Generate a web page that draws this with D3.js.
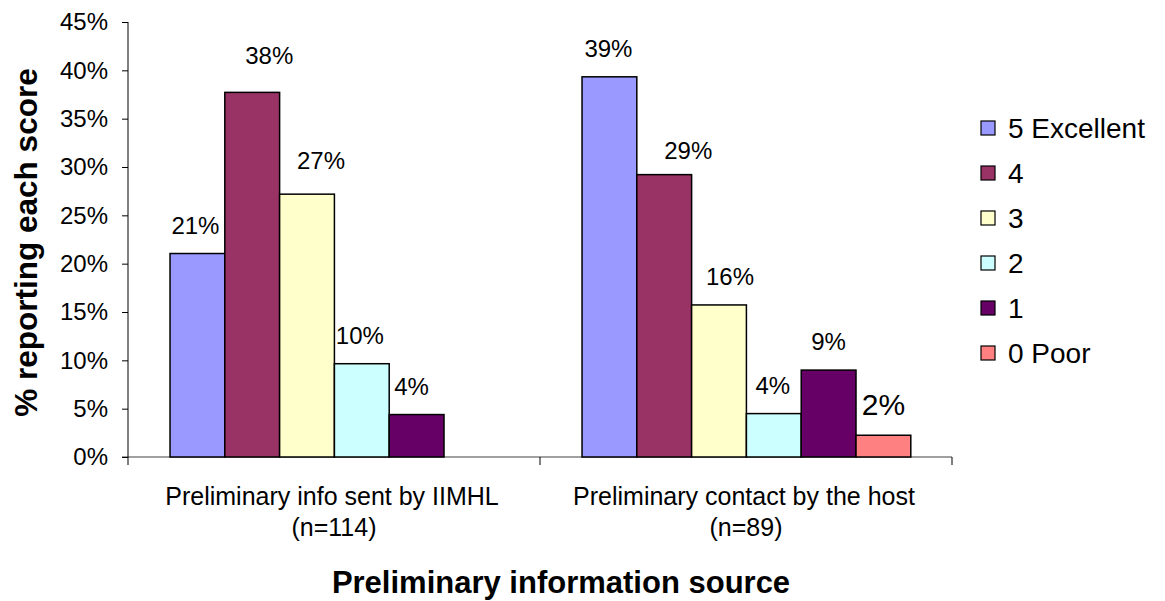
<!DOCTYPE html>
<html>
<head>
<meta charset="utf-8">
<script src="https://cdn.jsdelivr.net/npm/d3@7"></script>
<style>
  html, body { margin: 0; padding: 0; background: #fff; }
  svg { display: block; font-family: Arial, "Liberation Sans", sans-serif; }
</style>
</head>
<body>
<svg id="chart" width="1165" height="601"></svg>
<script>
// ---- data ----
const categories = ["Preliminary info sent by IIMHL", "Preliminary contact by the host"];
const categorySub = ["(n=114)", "(n=89)"];
const seriesNames = ["5 Excellent", "4", "3", "2", "1", "0 Poor"];
const seriesColors = ["#9999FF", "#993366", "#FFFFCC", "#CCFFFF", "#660066", "#FF8080"];
const valuesIIMHL = [0.2105, 0.3772, 0.2719, 0.0965, 0.0439, 0];
const valuesHost  = [0.3933, 0.2921, 0.1573, 0.0449, 0.0899, 0.0225];
const labelsIIMHL = ["21%", "38%", "27%", "10%", "4%", ""];
const labelsHost  = ["39%", "29%", "16%", "4%", "9%", "2%"];
const yTicks = [0, 0.05, 0.10, 0.15, 0.20, 0.25, 0.30, 0.35, 0.40, 0.45];
// manual label nudges (dx, dy) as moved in the original
const nudgeIIMHL = [[-2, 0], [17, -8], [14, -5], [-2, 0], [-5, 0], [0, 0]];
const nudgeHost  = [[-1, 0], [24, 4], [11, 0], [-1, 0], [0, 0], [0, 0]];

const values = [valuesIIMHL, valuesHost];
const labels = [labelsIIMHL, labelsHost];
const nudges = [nudgeIIMHL, nudgeHost];

const svg = d3.select("#chart");
const plot = {left: 128, right: 952, top: 22, bottom: 457};

const y = d3.scaleLinear().domain([0, 0.45]).range([plot.bottom, plot.top]);
const x0 = d3.scaleBand().domain(categories).range([plot.left, plot.right]).padding(0);
const bw = x0.bandwidth();
const x1 = d3.scaleBand().domain(seriesNames).range([bw * 0.102, bw * 0.9]).padding(0);

// x axis (gray baseline)
svg.append("line")
  .attr("x1", plot.left - 6).attr("x2", plot.right)
  .attr("y1", plot.bottom).attr("y2", plot.bottom)
  .attr("stroke", "#808080").attr("stroke-width", 1.5);
// category separator ticks
categories.forEach(c => {
  const xe = x0(c) + bw;
  svg.append("line").attr("x1", xe).attr("x2", xe)
    .attr("y1", plot.bottom).attr("y2", plot.bottom + 8)
    .attr("stroke", "#000").attr("stroke-width", 1);
});

// bars
const groups = svg.selectAll("g.cat").data(categories).join("g")
  .attr("class", "cat")
  .attr("transform", c => `translate(${x0(c)},0)`);

groups.each(function(c, ci) {
  const g = d3.select(this);
  const rows = seriesNames.map((s, si) => ({s, si, v: values[ci][si], lab: labels[ci][si], n: nudges[ci][si]}));
  g.selectAll("rect").data(rows.filter(d => d.v > 0)).join("rect")
    .attr("x", d => x1(d.s))
    .attr("y", d => y(d.v))
    .attr("width", x1.bandwidth())
    .attr("height", d => y(0) - y(d.v))
    .attr("fill", d => seriesColors[d.si])
    .attr("stroke", "#000").attr("stroke-width", 1.5);
  g.selectAll("text.lab").data(rows.filter(d => d.lab)).join("text")
    .attr("class", "lab")
    .attr("x", d => x1(d.s) + x1.bandwidth() / 2 + d.n[0])
    .attr("y", d => y(d.v) - 20 + d.n[1])
    .attr("text-anchor", "middle")
    .attr("font-size", d => d.s === "0 Poor" ? 30 : 24)
    .attr("fill", "#000")
    .text(d => d.lab);
});

// y axis
const yAxis = d3.axisLeft(y).tickValues(yTicks).tickFormat(d3.format(".0%")).tickSize(6).tickPadding(14);
const ya = svg.append("g").attr("transform", `translate(${plot.left},0)`).call(yAxis);
ya.select(".domain").remove();
ya.selectAll(".tick line").attr("stroke", "#000");
ya.selectAll(".tick text").attr("font-size", 24).attr("font-family", "Arial, 'Liberation Sans', sans-serif").attr("fill", "#000");
svg.append("line").attr("x1", plot.left).attr("x2", plot.left)
  .attr("y1", plot.top).attr("y2", plot.bottom + 8)
  .attr("stroke", "#000").attr("stroke-width", 1);

// category labels
categories.forEach((c, ci) => {
  const cx = x0(c) + bw / 2;
  svg.append("text").attr("x", cx - 2).attr("y", 505).attr("text-anchor", "middle")
    .attr("font-size", 25).text(c);
  svg.append("text").attr("x", cx).attr("y", 536).attr("text-anchor", "middle")
    .attr("font-size", 25).text(categorySub[ci]);
});

// axis titles
svg.append("text").attr("x", 561).attr("y", 593)
  .attr("text-anchor", "middle").attr("font-size", 31).attr("font-weight", "bold")
  .text("Preliminary information source");
svg.append("text").attr("transform", `translate(37,${(plot.top + plot.bottom) / 2 + 3}) rotate(-90)`)
  .attr("text-anchor", "middle").attr("font-size", 31.5).attr("font-weight", "bold")
  .text("% reporting each score");

// legend
const legend = svg.append("g").attr("transform", "translate(981,128)");
seriesNames.forEach((s, i) => {
  const gy = i * 45;
  legend.append("rect").attr("x", 0).attr("y", gy - 7).attr("width", 14).attr("height", 14)
    .attr("fill", seriesColors[i]).attr("stroke", "#000").attr("stroke-width", 1.2);
  legend.append("text").attr("x", 27).attr("y", gy + 10).attr("font-size", 28).text(s);
});
</script>
</body>
</html>
